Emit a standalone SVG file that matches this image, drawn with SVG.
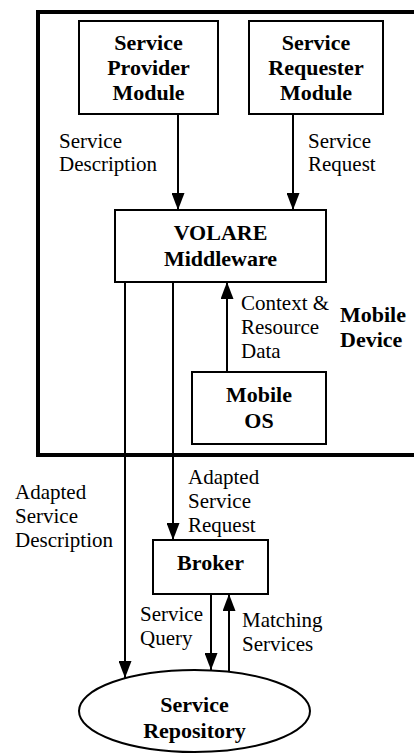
<svg xmlns="http://www.w3.org/2000/svg" width="414" height="754" viewBox="0 0 414 754">
<style>
.box{fill:#fff;stroke:#000;stroke-width:2}
.b{font-family:'Liberation Serif','Times New Roman','DejaVu Serif',serif;font-weight:bold;font-size:22px;text-anchor:middle;fill:#000}
.bl{font-family:'Liberation Serif','Times New Roman','DejaVu Serif',serif;font-weight:bold;font-size:22px;fill:#000}
.t{font-family:'Liberation Serif','Times New Roman','DejaVu Serif',serif;font-size:21px;fill:#000}
.c{fill:none;stroke:#000;stroke-width:2}
</style>
<defs>
<marker id="ah" viewBox="0 0 17 13" refX="17" refY="6.5" markerWidth="17" markerHeight="13" markerUnits="userSpaceOnUse" orient="auto">
<path d="M0,0 L17,6.5 L0,13 Z" fill="#000"/>
</marker>
</defs>
<g id="mobile-device-frame">
<rect x="38" y="12" width="400" height="443" fill="none" stroke="#000" stroke-width="4"/>
<text class="bl" x="340" y="322">Mobile</text>
<text class="bl" x="340" y="347">Device</text>
</g>
<g id="connectors">
<line class="c" x1="178" y1="114" x2="178" y2="210" marker-end="url(#ah)"/>
<line class="c" x1="293" y1="114" x2="293" y2="210" marker-end="url(#ah)"/>
<line class="c" x1="227" y1="372" x2="227" y2="282" marker-end="url(#ah)"/>
<line class="c" x1="125" y1="282" x2="125" y2="678" marker-end="url(#ah)"/>
<line class="c" x1="173" y1="282" x2="173" y2="540" marker-end="url(#ah)"/>
<line class="c" x1="211" y1="594" x2="211" y2="670" marker-end="url(#ah)"/>
<line class="c" x1="229" y1="672" x2="229" y2="594" marker-end="url(#ah)"/>
<text class="t" x="59" y="148">Service</text>
<text class="t" x="59" y="171">Description</text>
<text class="t" x="308" y="148">Service</text>
<text class="t" x="308" y="171">Request</text>
<text class="t" x="241" y="310">Context &amp;</text>
<text class="t" x="241" y="334">Resource</text>
<text class="t" x="241" y="358">Data</text>
<text class="t" x="188" y="484">Adapted</text>
<text class="t" x="188" y="508">Service</text>
<text class="t" x="188" y="532">Request</text>
<text class="t" x="15" y="499">Adapted</text>
<text class="t" x="15" y="523">Service</text>
<text class="t" x="15" y="547">Description</text>
<text class="t" x="140" y="621">Service</text>
<text class="t" x="140" y="645">Query</text>
<text class="t" x="242" y="627">Matching</text>
<text class="t" x="242" y="651">Services</text>
</g>
<g id="service-provider-module">
<rect class="box" x="79" y="21" width="139" height="93"/>
<text class="b" x="148.5" y="50">Service</text>
<text class="b" x="148.5" y="75">Provider</text>
<text class="b" x="148.5" y="100">Module</text>
</g>
<g id="service-requester-module">
<rect class="box" x="249" y="21" width="134" height="93"/>
<text class="b" x="316" y="50">Service</text>
<text class="b" x="316" y="75">Requester</text>
<text class="b" x="316" y="100">Module</text>
</g>
<g id="volare-middleware">
<rect class="box" x="115" y="210" width="211" height="72"/>
<text class="b" x="220.5" y="240">VOLARE</text>
<text class="b" x="220.5" y="266">Middleware</text>
</g>
<g id="mobile-os">
<rect class="box" x="192" y="372" width="134" height="72"/>
<text class="b" x="259" y="402">Mobile</text>
<text class="b" x="259" y="428">OS</text>
</g>
<g id="broker">
<rect class="box" x="153" y="540" width="115" height="54"/>
<text class="b" x="210.5" y="570">Broker</text>
</g>
<g id="service-repository">
<ellipse class="box" cx="194.5" cy="711" rx="115.5" ry="41"/>
<text class="b" x="194.5" y="712">Service</text>
<text class="b" x="194.5" y="738">Repository</text>
</g>
</svg>
